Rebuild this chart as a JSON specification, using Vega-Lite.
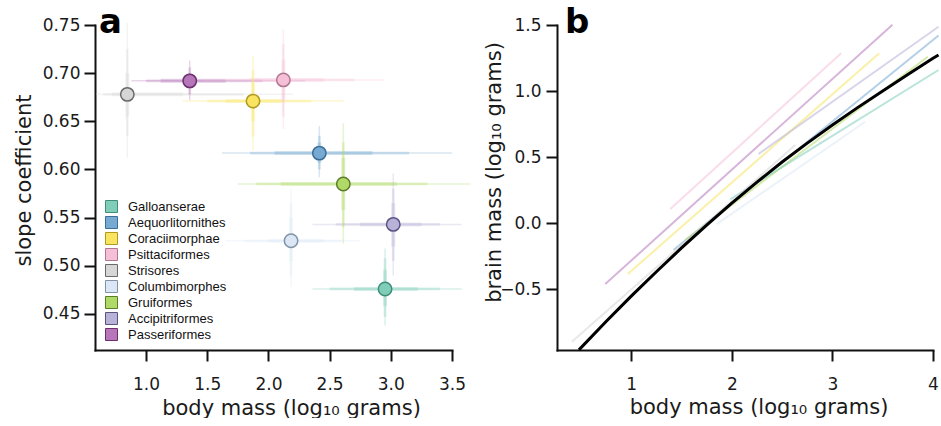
{
  "$schema": "https://vega.github.io/schema/vega-lite/v6.json",
  "padding": {"left": 13, "top": 6, "right": 0, "bottom": 0},
  "background": "white",
  "spacing": 105,
  "bounds": "flush",
  "datasets": {
    "points": [
      {"c": "Strisores", "m": 0.847, "s": 0.678},
      {"c": "Passeriformes", "m": 1.357, "s": 0.692},
      {"c": "Coraciimorphae", "m": 1.874, "s": 0.671},
      {"c": "Psittaciformes", "m": 2.122, "s": 0.693},
      {"c": "Aequorlitornithes", "m": 2.416, "s": 0.617},
      {"c": "Gruiformes", "m": 2.612, "s": 0.585},
      {"c": "Accipitriformes", "m": 3.02, "s": 0.543},
      {"c": "Columbimorphes", "m": 2.185, "s": 0.526},
      {"c": "Galloanserae", "m": 2.953, "s": 0.476}
    ],
    "intervals": [
      {"c": "Strisores", "d": "x", "l": 95, "lo": 0.59, "hi": 2.2},
      {"c": "Strisores", "d": "x", "l": 80, "lo": 0.65, "hi": 1.8},
      {"c": "Strisores", "d": "x", "l": 50, "lo": 0.72, "hi": 1.3},
      {"c": "Strisores", "d": "y", "l": 95, "lo": 0.612, "hi": 0.752},
      {"c": "Strisores", "d": "y", "l": 80, "lo": 0.635, "hi": 0.725},
      {"c": "Strisores", "d": "y", "l": 50, "lo": 0.655, "hi": 0.7},
      {"c": "Passeriformes", "d": "x", "l": 95, "lo": 0.88, "hi": 2.3},
      {"c": "Passeriformes", "d": "x", "l": 80, "lo": 1.0, "hi": 1.95},
      {"c": "Passeriformes", "d": "x", "l": 50, "lo": 1.12, "hi": 1.65},
      {"c": "Passeriformes", "d": "y", "l": 95, "lo": 0.672, "hi": 0.713},
      {"c": "Passeriformes", "d": "y", "l": 80, "lo": 0.678, "hi": 0.706},
      {"c": "Passeriformes", "d": "y", "l": 50, "lo": 0.684, "hi": 0.7},
      {"c": "Psittaciformes", "d": "x", "l": 95, "lo": 1.45, "hi": 2.95},
      {"c": "Psittaciformes", "d": "x", "l": 80, "lo": 1.65, "hi": 2.7},
      {"c": "Psittaciformes", "d": "x", "l": 50, "lo": 1.85, "hi": 2.45},
      {"c": "Psittaciformes", "d": "y", "l": 95, "lo": 0.642, "hi": 0.745},
      {"c": "Psittaciformes", "d": "y", "l": 80, "lo": 0.655, "hi": 0.73},
      {"c": "Psittaciformes", "d": "y", "l": 50, "lo": 0.672, "hi": 0.714},
      {"c": "Coraciimorphae", "d": "x", "l": 95, "lo": 1.3, "hi": 2.62},
      {"c": "Coraciimorphae", "d": "x", "l": 80, "lo": 1.5, "hi": 2.35},
      {"c": "Coraciimorphae", "d": "x", "l": 50, "lo": 1.65, "hi": 2.12},
      {"c": "Coraciimorphae", "d": "y", "l": 95, "lo": 0.62, "hi": 0.718},
      {"c": "Coraciimorphae", "d": "y", "l": 80, "lo": 0.634, "hi": 0.703},
      {"c": "Coraciimorphae", "d": "y", "l": 50, "lo": 0.65, "hi": 0.69},
      {"c": "Aequorlitornithes", "d": "x", "l": 95, "lo": 1.62, "hi": 3.5},
      {"c": "Aequorlitornithes", "d": "x", "l": 80, "lo": 1.85, "hi": 3.15},
      {"c": "Aequorlitornithes", "d": "x", "l": 50, "lo": 2.05, "hi": 2.85},
      {"c": "Aequorlitornithes", "d": "y", "l": 95, "lo": 0.592, "hi": 0.645},
      {"c": "Aequorlitornithes", "d": "y", "l": 80, "lo": 0.6, "hi": 0.635},
      {"c": "Aequorlitornithes", "d": "y", "l": 50, "lo": 0.607, "hi": 0.628},
      {"c": "Gruiformes", "d": "x", "l": 95, "lo": 1.75, "hi": 3.65},
      {"c": "Gruiformes", "d": "x", "l": 80, "lo": 1.9, "hi": 3.3},
      {"c": "Gruiformes", "d": "x", "l": 50, "lo": 2.1, "hi": 3.05},
      {"c": "Gruiformes", "d": "y", "l": 95, "lo": 0.523, "hi": 0.648},
      {"c": "Gruiformes", "d": "y", "l": 80, "lo": 0.54, "hi": 0.628},
      {"c": "Gruiformes", "d": "y", "l": 50, "lo": 0.558, "hi": 0.612},
      {"c": "Accipitriformes", "d": "x", "l": 95, "lo": 2.36, "hi": 3.58},
      {"c": "Accipitriformes", "d": "x", "l": 80, "lo": 2.55, "hi": 3.4},
      {"c": "Accipitriformes", "d": "x", "l": 50, "lo": 2.75, "hi": 3.25},
      {"c": "Accipitriformes", "d": "y", "l": 95, "lo": 0.49, "hi": 0.596},
      {"c": "Accipitriformes", "d": "y", "l": 80, "lo": 0.505, "hi": 0.58},
      {"c": "Accipitriformes", "d": "y", "l": 50, "lo": 0.52, "hi": 0.565},
      {"c": "Columbimorphes", "d": "x", "l": 95, "lo": 1.65, "hi": 2.75},
      {"c": "Columbimorphes", "d": "x", "l": 80, "lo": 1.8, "hi": 2.6},
      {"c": "Columbimorphes", "d": "x", "l": 50, "lo": 2.0, "hi": 2.45},
      {"c": "Columbimorphes", "d": "y", "l": 95, "lo": 0.478, "hi": 0.58},
      {"c": "Columbimorphes", "d": "y", "l": 80, "lo": 0.49, "hi": 0.565},
      {"c": "Columbimorphes", "d": "y", "l": 50, "lo": 0.505, "hi": 0.55},
      {"c": "Galloanserae", "d": "x", "l": 95, "lo": 2.36, "hi": 3.58},
      {"c": "Galloanserae", "d": "x", "l": 80, "lo": 2.5, "hi": 3.4},
      {"c": "Galloanserae", "d": "x", "l": 50, "lo": 2.7, "hi": 3.22},
      {"c": "Galloanserae", "d": "y", "l": 95, "lo": 0.438, "hi": 0.518},
      {"c": "Galloanserae", "d": "y", "l": 80, "lo": 0.447, "hi": 0.508},
      {"c": "Galloanserae", "d": "y", "l": 50, "lo": 0.458, "hi": 0.496}
    ],
    "segments": [
      {"c": "Psittaciformes", "x": 1.388, "y": 0.106},
      {"c": "Psittaciformes", "x": 3.087, "y": 1.286},
      {"c": "Passeriformes", "x": 0.742, "y": -0.462},
      {"c": "Passeriformes", "x": 3.597, "y": 1.502},
      {"c": "Coraciimorphae", "x": 0.966, "y": -0.386},
      {"c": "Coraciimorphae", "x": 3.465, "y": 1.286},
      {"c": "Accipitriformes", "x": 2.265, "y": 0.523},
      {"c": "Accipitriformes", "x": 4.055, "y": 1.487},
      {"c": "Aequorlitornithes", "x": 1.42, "y": -0.205},
      {"c": "Aequorlitornithes", "x": 4.055, "y": 1.42},
      {"c": "Gruiformes", "x": 1.537, "y": -0.129},
      {"c": "Gruiformes", "x": 3.948, "y": 1.26},
      {"c": "Galloanserae", "x": 1.984, "y": 0.18},
      {"c": "Galloanserae", "x": 4.055, "y": 1.159},
      {"c": "Columbimorphes", "x": 1.85, "y": -0.009},
      {"c": "Columbimorphes", "x": 3.326, "y": 0.767},
      {"c": "Strisores", "x": 0.41, "y": -0.9},
      {"c": "Strisores", "x": 2.631, "y": 0.591}
    ],
    "curve": [
      {"x": 0.48, "y": -0.961},
      {"x": 0.75, "y": -0.746},
      {"x": 1.0, "y": -0.554},
      {"x": 1.25, "y": -0.369},
      {"x": 1.5, "y": -0.189},
      {"x": 1.75, "y": -0.016},
      {"x": 2.0, "y": 0.15},
      {"x": 2.25, "y": 0.31},
      {"x": 2.5, "y": 0.462},
      {"x": 2.75, "y": 0.605},
      {"x": 3.0, "y": 0.742},
      {"x": 3.25, "y": 0.874},
      {"x": 3.5, "y": 1.0},
      {"x": 3.75, "y": 1.125},
      {"x": 4.0, "y": 1.248},
      {"x": 4.055, "y": 1.273}
    ]
  },
  "config": {
    "view": {"stroke": null},
    "axis": {
      "domainColor": "#111111",
      "domainWidth": 2,
      "domainCap": "square",
      "tickColor": "#111111",
      "tickWidth": 2,
      "tickSize": 11,
      "labelFont": "DejaVu Sans",
      "labelFontSize": 17,
      "labelColor": "#1a1a1a",
      "titleFont": "DejaVu Sans",
      "titleFontSize": 21,
      "titleFontWeight": "normal",
      "titleColor": "#1a1a1a",
      "grid": false,
      "labelFlush": false,
      "labelOverlap": false
    },
    "title": {"font": "DejaVu Sans", "fontSize": 34, "fontWeight": "bold", "color": "#000000", "anchor": "start", "frame": "group", "baseline": "alphabetic", "offset": 0}
  },
  "resolve": {"scale": {"color": "independent", "fill": "independent", "stroke": "independent", "x": "independent", "y": "independent"}, "legend": {"color": "independent", "fill": "independent", "stroke": "independent"}},
  "hconcat": [
    {
      "width": 357,
      "height": 325,
      "title": {"text": "a", "dx": 4, "dy": 28},
      "layer": [
        {
          "data": {"name": "intervals"},
          "transform": [
            {"filter": "datum.d == 'x'"},
            {"lookup": "c", "from": {"data": {"name": "points"}, "key": "c", "fields": ["m", "s"]}}
          ],
          "mark": {"type": "rule", "opacity": 0.3, "strokeCap": "butt"},
          "encoding": {
            "x": {"field": "lo", "type": "quantitative", "title": "body mass (log₁₀ grams)",
              "scale": {"domain": [0.583, 3.5], "nice": false, "zero": false},
              "axis": {"values": [1, 1.5, 2, 2.5, 3, 3.5], "format": ".1f", "labelPadding": 15, "titleX": 196, "titleY": 64, "titleBaseline": "alphabetic"}},
            "x2": {"field": "hi"},
            "y": {"field": "s", "type": "quantitative", "title": "slope coefficient",
              "scale": {"domain": [0.4126, 0.75], "nice": false, "zero": false},
              "axis": {"values": [0.45, 0.5, 0.55, 0.6, 0.65, 0.7, 0.75], "format": ".2f", "labelPadding": 4, "titleX": -71, "titleY": 155, "titleBaseline": "middle"}},
            "color": {"field": "c", "type": "nominal",
              "scale": {"range": ["#b8b2d8", "#76aad2", "#dbe7f4", "#f8e460", "#80cdb9", "#b0da68", "#b676b9", "#f6bfd8", "#d6d6d6"]},
              "legend": null},
            "strokeWidth": {"field": "l", "type": "ordinal", "scale": {"domain": [95, 80, 50], "range": [1.5, 4, 7]}, "legend": null}
          }
        },
        {
          "data": {"name": "intervals"},
          "transform": [
            {"filter": "datum.d == 'y'"},
            {"lookup": "c", "from": {"data": {"name": "points"}, "key": "c", "fields": ["m", "s"]}}
          ],
          "mark": {"type": "rule", "opacity": 0.3, "strokeCap": "butt"},
          "encoding": {
            "x": {"field": "m", "type": "quantitative", "title": "body mass (log₁₀ grams)"},
            "y": {"field": "lo", "type": "quantitative", "title": "slope coefficient"},
            "y2": {"field": "hi"},
            "color": {"field": "c", "type": "nominal", "legend": null},
            "strokeWidth": {"field": "l", "type": "ordinal", "legend": null}
          }
        },
        {
          "data": {"name": "points"},
          "mark": {"type": "point", "filled": true, "shape": "circle", "size": 180, "strokeWidth": 1.5, "opacity": 1, "fillOpacity": 1},
          "encoding": {
            "x": {"field": "m", "type": "quantitative", "title": "body mass (log₁₀ grams)"},
            "y": {"field": "s", "type": "quantitative", "title": "slope coefficient"},
            "fill": {"field": "c", "type": "nominal",
              "scale": {"domain": ["Galloanserae", "Aequorlitornithes", "Coraciimorphae", "Psittaciformes", "Strisores", "Columbimorphes", "Gruiformes", "Accipitriformes", "Passeriformes"],
                "range": ["#80cdb9", "#76aad2", "#f8e460", "#f6bfd8", "#d6d6d6", "#dbe7f4", "#b0da68", "#b8b2d8", "#b676b9"]},
              "legend": {"orient": "none", "legendX": 10, "legendY": 175, "title": null, "symbolType": "square", "symbolSize": 144, "symbolStrokeWidth": 1, "labelFont": "Liberation Sans", "labelFontSize": 13, "labelColor": "#111111", "labelOffset": 10, "rowPadding": -1, "padding": 0, "symbolOpacity": 1}},
            "stroke": {"field": "c", "type": "nominal",
              "scale": {"domain": ["Galloanserae", "Aequorlitornithes", "Coraciimorphae", "Psittaciformes", "Strisores", "Columbimorphes", "Gruiformes", "Accipitriformes", "Passeriformes"],
                "range": ["#3f8f78", "#3c6f98", "#b09a20", "#b07890", "#6a6a6a", "#8093a8", "#5c7d28", "#5a5485", "#6b2f6e"]},
              "legend": {"orient": "none", "legendX": 10, "legendY": 175, "title": null, "symbolType": "square", "symbolSize": 144, "symbolStrokeWidth": 1, "labelFont": "Liberation Sans", "labelFontSize": 13, "labelColor": "#111111", "labelOffset": 10, "rowPadding": -1, "padding": 0, "symbolOpacity": 1}}
          }
        }
      ]
    },
    {
      "width": 376,
      "height": 325,
      "title": {"text": "b", "dx": 8, "dy": 28},
      "layer": [
        {
          "data": {"name": "segments"},
          "mark": {"type": "line", "strokeWidth": 2, "opacity": 0.55},
          "encoding": {
            "x": {"field": "x", "type": "quantitative", "title": "body mass (log₁₀ grams)",
              "scale": {"domain": [0.262, 4], "nice": false, "zero": false},
              "axis": {"values": [1, 2, 3, 4], "format": "d", "labelPadding": 15, "titleX": 201.5, "titleY": 63, "titleBaseline": "alphabetic"}},
            "y": {"field": "y", "type": "quantitative", "title": "brain mass (log₁₀ grams)",
              "scale": {"domain": [-0.962, 1.5], "nice": false, "zero": false},
              "axis": {"values": [-0.5, 0, 0.5, 1, 1.5], "format": ".1f", "labelPadding": 5, "titleX": -63, "titleY": 147, "titleBaseline": "middle"}},
            "color": {"field": "c", "type": "nominal",
              "scale": {"domain": ["Galloanserae", "Aequorlitornithes", "Coraciimorphae", "Psittaciformes", "Strisores", "Columbimorphes", "Gruiformes", "Accipitriformes", "Passeriformes"],
                "range": ["#80cdb9", "#76aad2", "#f8e460", "#f6bfd8", "#d6d6d6", "#dbe7f4", "#b0da68", "#b8b2d8", "#b676b9"]},
              "legend": null}
          }
        },
        {
          "data": {"name": "curve"},
          "mark": {"type": "line", "color": "#000000", "strokeWidth": 3},
          "encoding": {
            "x": {"field": "x", "type": "quantitative", "title": "body mass (log₁₀ grams)"},
            "y": {"field": "y", "type": "quantitative", "title": "brain mass (log₁₀ grams)"}
          }
        }
      ]
    }
  ]
}
